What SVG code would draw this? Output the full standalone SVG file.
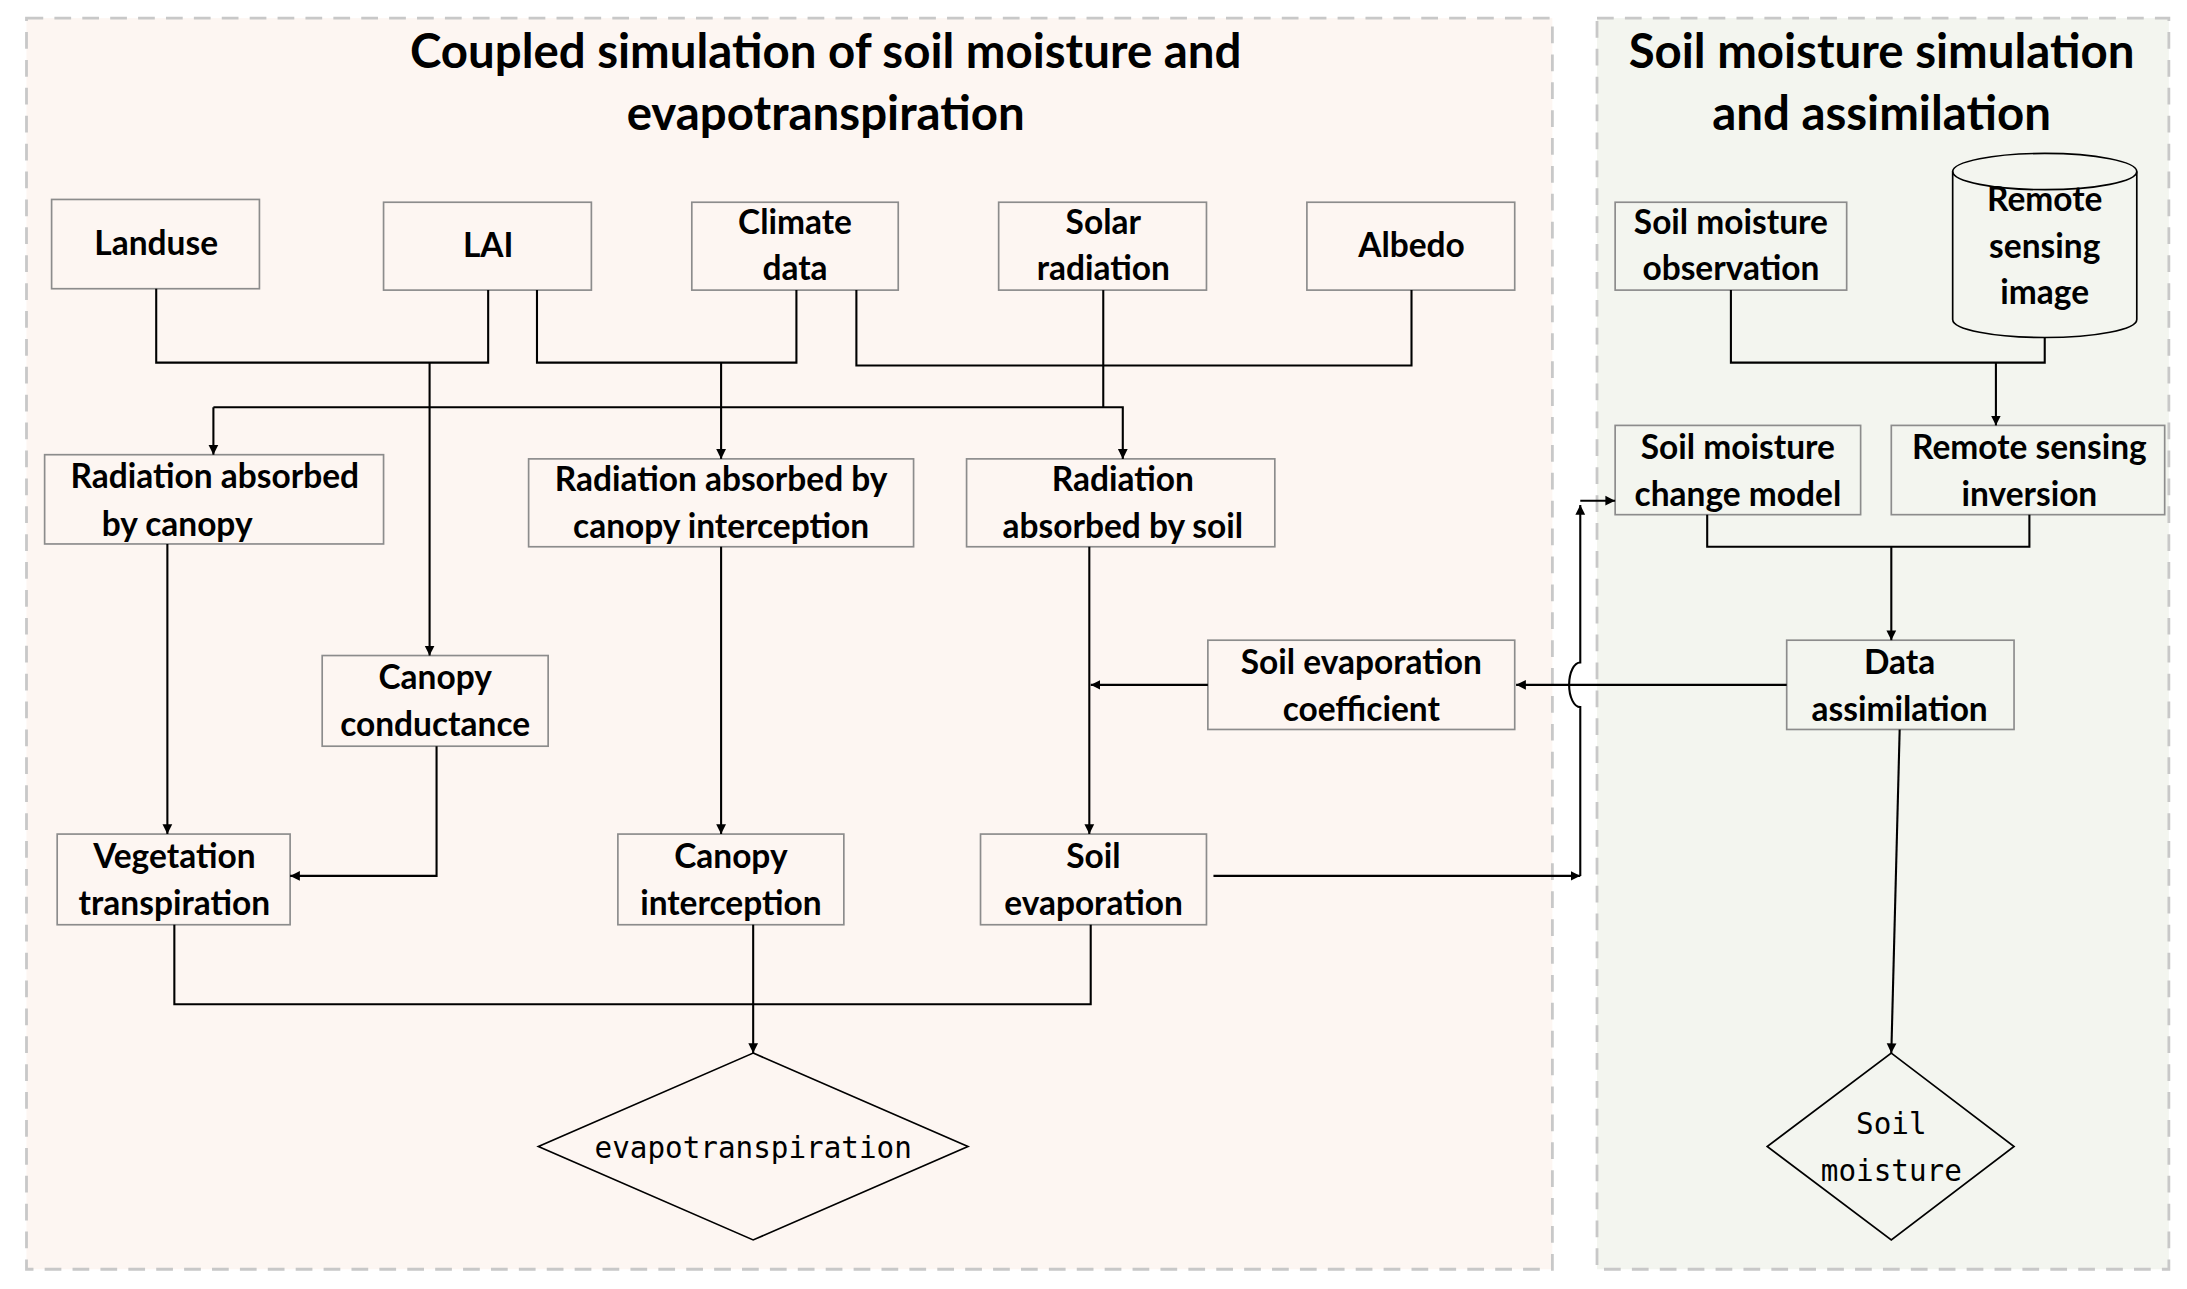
<svg xmlns="http://www.w3.org/2000/svg" width="2187" height="1289" viewBox="0 0 2187 1289">
<style>
.bx{fill:none;stroke:#8c8c8c;stroke-width:1.2}
.t{font-family:Lato,"Liberation Sans",sans-serif;font-weight:700;font-size:24px;fill:#000;text-anchor:middle}
.h{font-family:Lato,"Liberation Sans",sans-serif;font-weight:700;font-size:34px;fill:#000;text-anchor:middle}
.m{font-family:"DejaVu Sans Mono","Liberation Mono",monospace;font-size:21px;fill:#000;text-anchor:middle}
.c{fill:none;stroke:#000;stroke-width:1.5}
.pn{stroke:#c8c8c8;stroke-width:2;stroke-dasharray:12 8}
</style>
<defs>
<marker id="a" viewBox="0 0 10 10" refX="10" refY="5" markerWidth="7" markerHeight="9" markerUnits="userSpaceOnUse" orient="auto"><path d="M0 0L10 5L0 10z" fill="#000"/></marker>
</defs>
<rect width="2187" height="1289" fill="#fff"/>
<g transform="scale(1.39477)">
<g id="panel-left"><rect class="pn" x="19" y="13" width="1094" height="897" fill="#fdf6f2"/>
<text class="h" x="592" y="49">Coupled simulation of soil moisture and</text>
<text class="h" x="592" y="93">evapotranspiration</text></g>
<g id="panel-right"><rect class="pn" x="1145" y="13" width="410" height="897" fill="#f3f5ef"/>
<text class="h" x="1349" y="49">Soil moisture simulation</text>
<text class="h" x="1349" y="93">and assimilation</text></g>

<g id="landuse"><rect class="bx" x="37" y="143" width="149" height="64"/><text class="t" x="112" y="183">Landuse</text></g>
<g id="lai"><rect class="bx" x="275" y="145" width="149" height="63"/><text class="t" x="350" y="184">LAI</text></g>
<g id="climate"><rect class="bx" x="496" y="145" width="148" height="63"/><text class="t" x="570" y="168">Climate</text><text class="t" x="570" y="201">data</text></g>
<g id="solar"><rect class="bx" x="716" y="145" width="149" height="63"/><text class="t" x="791" y="168">Solar</text><text class="t" x="791" y="201">radiation</text></g>
<g id="albedo"><rect class="bx" x="937" y="145" width="149" height="63"/><text class="t" x="1012" y="184">Albedo</text></g>
<g id="sm-obs"><rect class="bx" x="1158" y="145" width="166" height="63"/><text class="t" x="1241" y="168">Soil moisture</text><text class="t" x="1241" y="201">observation</text></g>
<g id="rs-image"><path d="M1400 123V229A66 13 0 0 0 1532 229V123" fill="none" stroke="#000" stroke-width="1.2"/><ellipse cx="1466" cy="123" rx="66" ry="13" fill="none" stroke="#000" stroke-width="1.2"/>
<text class="t" x="1466" y="151">Remote</text><text class="t" x="1466" y="185">sensing</text><text class="t" x="1466" y="218">image</text></g>

<g id="rad-canopy"><rect class="bx" x="32" y="326" width="243" height="64"/><text class="t" x="154" y="350">Radiation absorbed</text><text class="t" x="127" y="384">by canopy</text></g>
<g id="rad-int"><rect class="bx" x="379" y="329" width="276" height="63"/><text class="t" x="517" y="352">Radiation absorbed by</text><text class="t" x="517" y="386">canopy interception</text></g>
<g id="rad-soil"><rect class="bx" x="693" y="329" width="221" height="63"/><text class="t" x="805" y="352">Radiation</text><text class="t" x="805" y="386">absorbed by soil</text></g>
<g id="sm-model"><rect class="bx" x="1158" y="305" width="176" height="64"/><text class="t" x="1246" y="329">Soil moisture</text><text class="t" x="1246" y="363">change model</text></g>
<g id="rs-inv"><rect class="bx" x="1356" y="305" width="196" height="64"/><text class="t" x="1455" y="329">Remote sensing</text><text class="t" x="1455" y="363">inversion</text></g>
<g id="canopy-cond"><rect class="bx" x="231" y="470" width="162" height="65"/><text class="t" x="312" y="494">Canopy</text><text class="t" x="312" y="528">conductance</text></g>
<g id="soil-coef"><rect class="bx" x="866" y="459" width="220" height="64"/><text class="t" x="976" y="483">Soil evaporation</text><text class="t" x="976" y="517">coefficient</text></g>
<g id="data-assim"><rect class="bx" x="1281" y="459" width="163" height="64"/><text class="t" x="1362" y="483">Data</text><text class="t" x="1362" y="517">assimilation</text></g>
<g id="veg-trans"><rect class="bx" x="41" y="598" width="167" height="65"/><text class="t" x="125" y="622">Vegetation</text><text class="t" x="125" y="656">transpiration</text></g>
<g id="canopy-int"><rect class="bx" x="443" y="598" width="162" height="65"/><text class="t" x="524" y="622">Canopy</text><text class="t" x="524" y="656">interception</text></g>
<g id="soil-evap"><rect class="bx" x="703" y="598" width="162" height="65"/><text class="t" x="784" y="622">Soil</text><text class="t" x="784" y="656">evaporation</text></g>
<g id="et"><path d="M540 755L694 822L540 889L386 822Z" fill="none" stroke="#000" stroke-width="1.2"/><text class="m" x="540" y="830">evapotranspiration</text></g>
<g id="sm"><path d="M1356 755L1444 822L1356 889L1267 822Z" fill="none" stroke="#000" stroke-width="1.2"/><text class="m" x="1356" y="813">Soil</text><text class="m" x="1356" y="847">moisture</text></g>

<g id="connectors">
<path class="c" d="M112 207V260H350V208"/>
<path class="c" d="M308 260V470" marker-end="url(#a)"/>
<path class="c" d="M385 208V260H571V208"/>
<path class="c" d="M517 260V329" marker-end="url(#a)"/>
<path class="c" d="M614 208V262H1012V208"/>
<path class="c" d="M791 208V292"/>
<path class="c" d="M153 292H805V329" marker-end="url(#a)"/>
<path class="c" d="M153 292V326" marker-end="url(#a)"/>
<path class="c" d="M120 390V598" marker-end="url(#a)"/>
<path class="c" d="M313 535V628H208" marker-end="url(#a)"/>
<path class="c" d="M517 392V598" marker-end="url(#a)"/>
<path class="c" d="M781 392V598" marker-end="url(#a)"/>
<path class="c" d="M866 491H782" marker-end="url(#a)"/>
<path class="c" d="M1281 491H1087" marker-end="url(#a)"/>
<path class="c" d="M870 628H1133" marker-end="url(#a)"/>
<path class="c" d="M1133 628V507A8 16 0 0 1 1133 475V362" marker-end="url(#a)"/>
<path class="c" d="M1133 359H1158" marker-end="url(#a)"/>
<path class="c" d="M1241 208V260H1466V242"/>
<path class="c" d="M1431 260V305" marker-end="url(#a)"/>
<path class="c" d="M1224 369V392H1455V369"/>
<path class="c" d="M1356 392V459" marker-end="url(#a)"/>
<path class="c" d="M1362 523L1356 755" marker-end="url(#a)"/>
<path class="c" d="M125 663V720H782V663"/>
<path class="c" d="M540 663V755" marker-end="url(#a)"/>
</g>
</g>
</svg>
